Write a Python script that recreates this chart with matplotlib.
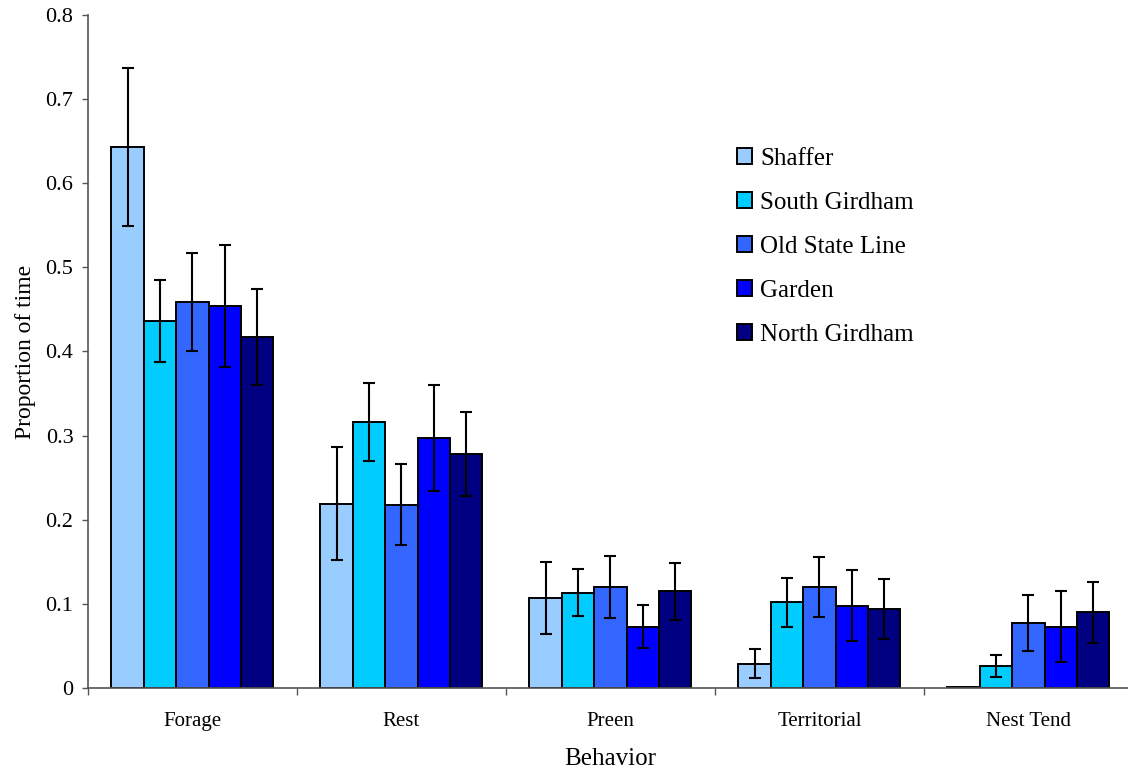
import numpy as np
import matplotlib.pyplot as plt

plt.rcParams['font.family'] = ['Liberation Serif', 'DejaVu Serif']

behaviors = ["Forage", "Rest", "Preen", "Territorial", "Nest Tend"]
sites = ["Shaffer", "South Girdham", "Old State Line", "Garden", "North Girdham"]
colors = ["#99CCFF", "#00CCFF", "#3366FF", "#0000FF", "#000080"]

# mean proportion of time, one list per site (order of behaviors)
shaffer = [0.643, 0.219, 0.107, 0.029, 0.001]
south_girdham = [0.436, 0.316, 0.113, 0.102, 0.026]
old_state_line = [0.459, 0.218, 0.120, 0.120, 0.077]
garden = [0.454, 0.297, 0.073, 0.098, 0.073]
north_girdham = [0.417, 0.278, 0.115, 0.094, 0.090]

# error bar half-lengths
shaffer_err = [0.094, 0.067, 0.043, 0.017, 0.0]
south_girdham_err = [0.049, 0.046, 0.028, 0.029, 0.013]
old_state_line_err = [0.058, 0.048, 0.037, 0.036, 0.033]
garden_err = [0.072, 0.063, 0.026, 0.042, 0.042]
north_girdham_err = [0.057, 0.050, 0.034, 0.036, 0.036]

yticks = [0, 0.1, 0.2, 0.3, 0.4, 0.5, 0.6, 0.7, 0.8]
ytick_labels = ["0", "0.1", "0.2", "0.3", "0.4", "0.5", "0.6", "0.7", "0.8"]

values = [shaffer, south_girdham, old_state_line, garden, north_girdham]
errors = [shaffer_err, south_girdham_err, old_state_line_err, garden_err, north_girdham_err]

fig = plt.figure(figsize=(11.28, 7.76), dpi=100)
ax = fig.add_axes([0.078, 0.1134, 0.9264, 0.8673])

bar_w = 0.155
x = np.arange(len(behaviors)) + 0.5
for i, (vals, errs) in enumerate(zip(values, errors)):
    pos = x + (i - 2) * bar_w
    ax.bar(pos, vals, width=bar_w, color=colors[i], edgecolor='black',
           linewidth=1.4, label=sites[i], zorder=2)
    mask = np.array(errs) > 0
    ax.errorbar(pos[mask], np.array(vals)[mask], yerr=np.array(errs)[mask], fmt='none',
                ecolor='black', elinewidth=1.5, capsize=4, capthick=1.5, zorder=3)

ax.set_xlim(0, 5.0)
ax.set_ylim(0, 0.8)
ax.set_yticks(yticks)
ax.set_yticklabels(ytick_labels)
ax.set_xticks(x)
ax.set_xticklabels(behaviors)
ax.set_xticks(np.arange(0, 6), minor=True)
ax.tick_params(axis='x', which='major', length=0, pad=17, labelsize=15)
ax.tick_params(axis='x', which='minor', length=5, width=1, direction='out', color='#555555')
ax.tick_params(axis='y', length=4.5, width=1, direction='out', labelsize=16, pad=6,
               color='#555555')

for s in ['top', 'right']:
    ax.spines[s].set_visible(False)
for s in ['left', 'bottom']:
    ax.spines[s].set_color('#555555')
    ax.spines[s].set_linewidth(1.2)

ax.set_ylabel("Proportion of time", fontsize=17, labelpad=7)
ax.set_xlabel("Behavior", fontsize=18, labelpad=12.5)

leg = ax.legend(loc='upper left', bbox_to_anchor=(0.621, 0.803), frameon=False,
                fontsize=18, handlelength=0.6, handleheight=0.6,
                handletextpad=0.32, labelspacing=0.88, borderaxespad=0, borderpad=0)

fig.savefig("out.png", dpi=100)
